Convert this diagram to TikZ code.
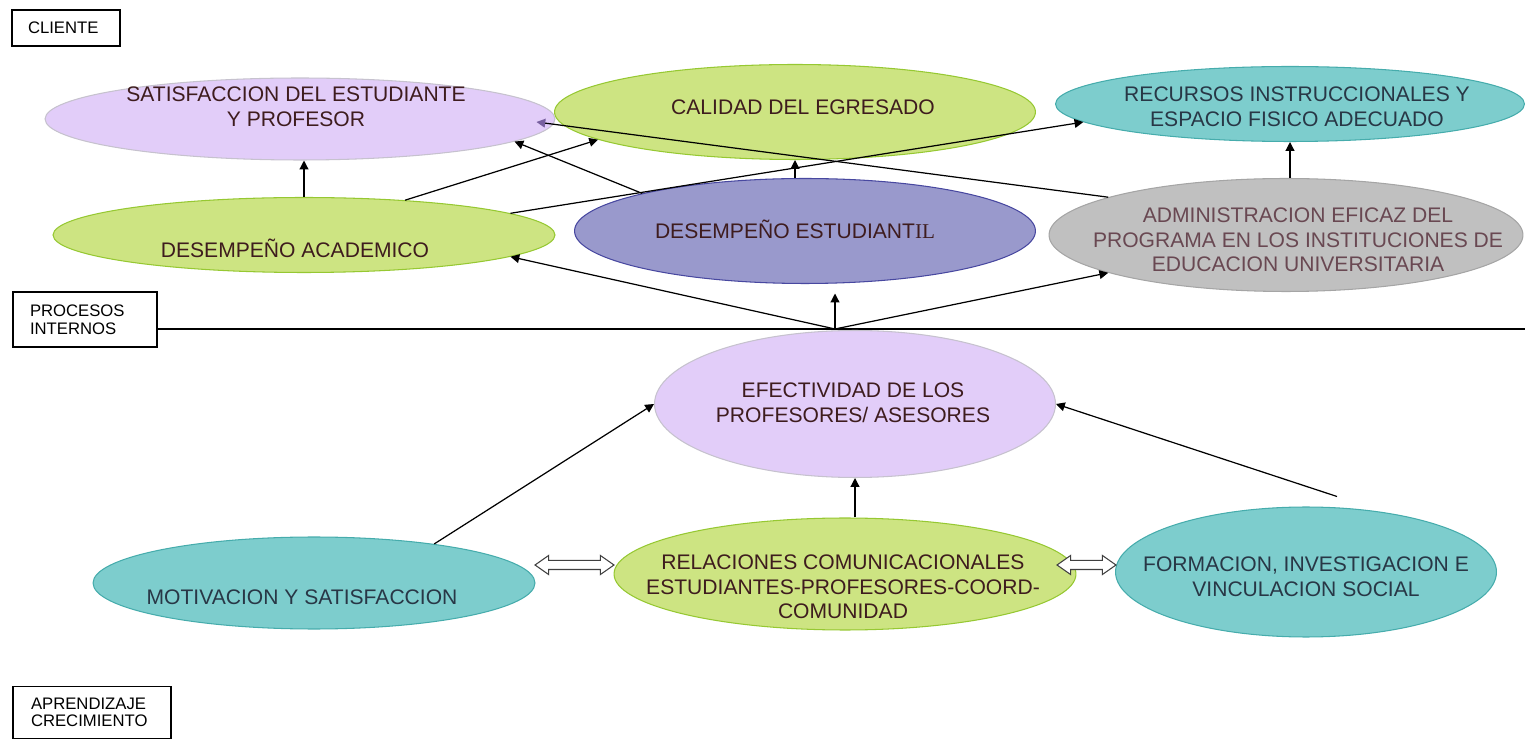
\documentclass[tikz,border=0pt]{standalone}
\usepackage{fontspec}
\setmainfont{Liberation Sans}
\newfontfamily\serifo{Liberation Serif}
\usetikzlibrary{shapes.geometric,shapes.arrows,arrows.meta}
\definecolor{lila}{RGB}{226,205,249}
\definecolor{lilaline}{RGB}{198,194,206}
\definecolor{lima}{RGB}{205,228,130}
\definecolor{limaline}{RGB}{150,200,50}
\definecolor{turq}{RGB}{125,205,205}
\definecolor{turqline}{RGB}{70,172,172}
\definecolor{azul}{RGB}{153,153,204}
\definecolor{azulline}{RGB}{72,72,160}
\definecolor{gris}{RGB}{192,192,192}
\definecolor{grisline}{RGB}{165,165,165}
\definecolor{tinta}{RGB}{62,28,30}
\definecolor{tintaturq}{RGB}{40,55,70}
\definecolor{tintagris}{RGB}{105,72,82}
\definecolor{violeta}{RGB}{120,96,160}
\tikzset{
  elip/.style={draw,ellipse,inner sep=0,line width=0.6pt},
  rotulo/.style={align=center,font=\fontsize{12}{14}\selectfont,text=tinta},
  caja/.style={draw,rectangle,line width=0.6pt,align=left,font=\fontsize{9.5}{10.2}\selectfont},
  flecha/.style={-{Triangle[length=5pt,width=5pt]},line width=0.7pt},
  doble/.style={double arrow,draw=black!75,fill=white,line width=0.6pt,inner xsep=0,
    inner ysep=0.08cm,double arrow head extend=0.1cm,double arrow tip angle=70}
}
\begin{document}
\begin{tikzpicture}[x=0.02cm,y=-0.02cm]
  \useasboundingbox (0,0) rectangle (1525,739);

  \node[caja,minimum width=2.16cm,minimum height=0.72cm,text width=1.52cm,inner xsep=0.32cm](cli) at (66,28) {CLIENTE};
  \node[caja,minimum width=2.88cm,minimum height=1.1cm,text width=2.2cm,inner xsep=0.34cm](proc) at (85,319.5) {PROCESOS\\INTERNOS};
  \node[caja,anchor=north,text width=2.44cm,inner xsep=0.36cm,inner ysep=0.22cm](apr) at (92,686) {APRENDIZAJE\\CRECIMIENTO};
  \coordinate (fin) at (1525,329);
  \draw[line width=0.6pt] (proc.east |- fin) -- (fin);

  \node[elip,fill=lila,draw=lilaline,minimum width=10.2cm,minimum height=1.64cm](sat) at (300,119) {};
  \node[elip,fill=lima,draw=limaline,minimum width=9.62cm,minimum height=1.9cm](cal) at (795,112) {};
  \node[elip,fill=turq,draw=turqline,minimum width=9.38cm,minimum height=1.5cm](rec) at (1290,104) {};
  \node[elip,fill=lima,draw=limaline,minimum width=10.04cm,minimum height=1.5cm](acad) at (304,235) {};
  \node[elip,fill=azul,draw=azulline,minimum width=9.22cm,minimum height=2.1cm](est) at (805,231) {};
  \node[elip,fill=gris,draw=grisline,minimum width=9.48cm,minimum height=2.26cm](adm) at (1286,235) {};
  \node[elip,fill=lila,draw=lilaline,minimum width=8.02cm,minimum height=2.94cm](efe) at (855,404) {};
  \node[elip,fill=turq,draw=turqline,minimum width=8.84cm,minimum height=1.84cm](mot) at (314,583) {};
  \node[elip,fill=lima,draw=limaline,minimum width=9.24cm,minimum height=2.24cm](rel) at (845,574) {};
  \node[elip,fill=turq,draw=turqline,minimum width=7.62cm,minimum height=2.6cm](for) at (1306,572) {};

  \node[rotulo](sat-t) at (296,107) {SATISFACCION DEL ESTUDIANTE\\Y PROFESOR};
  \node[rotulo](cal-t) at (803,107) {CALIDAD DEL EGRESADO};
  \node[rotulo,text=tintaturq](rec-t) at (1297,107) {RECURSOS INSTRUCCIONALES Y\\ESPACIO FISICO ADECUADO};
  \node[rotulo](acad-t) at (295,248) {DESEMPEÑO ACADEMICO};
  \node[rotulo](est-t) at (795,229) {DESEMPEÑO ESTUDIANT{\serifo IL}};
  \node[rotulo,text=tintagris](adm-t) at (1298,240) {ADMINISTRACION EFICAZ DEL\\PROGRAMA EN LOS INSTITUCIONES DE\\EDUCACION UNIVERSITARIA};
  \node[rotulo](efe-t) at (853,403) {EFECTIVIDAD DE LOS\\PROFESORES/ ASESORES};
  \node[rotulo,text=tintaturq](mot-t) at (302,597) {MOTIVACION Y SATISFACCION};
  \node[rotulo](rel-t) at (843,587) {RELACIONES COMUNICACIONALES\\ESTUDIANTES-PROFESORES-COORD-\\COMUNIDAD};
  \node[rotulo,text=tintaturq](for-t) at (1306,577) {FORMACION, INVESTIGACION E\\VINCULACION SOCIAL};

  \node[doble,minimum height=1.58cm](da1) at (574.5,565) {};
  \node[doble,minimum height=1.18cm](da2) at (1086.5,565) {};

  \coordinate (fan) at (835,329);
  \draw[flecha] (acad.north) -- (acad.north |- sat.south);
  \draw[flecha] (acad.19) -- (cal.188);
  \draw[flecha] (acad.6) -- (rec.185);
  \draw[flecha] (est.167) -- (sat.-6);
  \draw[-{Triangle[length=5pt,width=5pt,color=violeta]},line width=0.7pt] (adm.168) -- ([xshift=-0.38cm,yshift=-0.06cm]sat.east);
  \draw[flecha] (cal.south |- est.north) -- (cal.south);
  \draw[flecha] (rec.south |- adm.north) -- (rec.south);
  \draw[flecha] (fan) -- (acad.-6);
  \draw[flecha,shorten >=0.19cm] (fan) -- (fan |- est.south);
  \draw[flecha] (fan) -- (adm.192);
  \draw[flecha] (mot.18) -- (efe.west);
  \draw[flecha] (efe.south |- rel.north) -- (efe.south);
  \draw[flecha] ([xshift=0.62cm,yshift=0.2cm]for.north) -- (efe.east);
\end{tikzpicture}
\end{document}
